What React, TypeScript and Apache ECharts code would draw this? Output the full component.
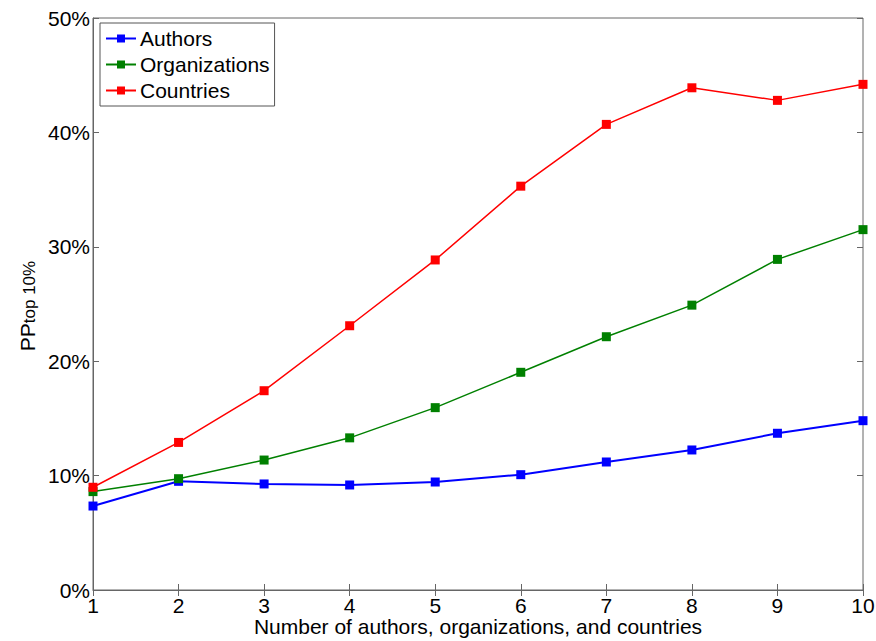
import React, { useEffect, useRef } from "react";
import * as echarts from "echarts";

const xValues = [1, 2, 3, 4, 5, 6, 7, 8, 9, 10];
const authors = [7.34, 9.5, 9.27, 9.18, 9.44, 10.08, 11.19, 12.24, 13.7, 14.8];
const organizations = [8.6, 9.73, 11.36, 13.3, 15.94, 19.03, 22.14, 24.9, 28.9, 31.5];
const countries = [8.98, 12.9, 17.42, 23.1, 28.85, 35.3, 40.7, 43.9, 42.8, 44.2];
const seriesNames = ["Authors", "Organizations", "Countries"];
const xTitle = "Number of authors, organizations, and countries";

const FONT = "Liberation Sans, Arial, sans-serif";

export default function App() {
  const ref = useRef<HTMLDivElement>(null);
  useEffect(() => {
    if (!ref.current) return;
    const chart = echarts.init(ref.current, null, { renderer: "svg" });
    const mk = (name: string, data: number[], color: string, width: number) => ({
      name,
      type: "line",
      data: xValues.map((x, i) => [x, data[i]]),
      symbol: "rect",
      symbolSize: 9,
      lineStyle: { color, width },
      itemStyle: { color },
      emphasis: { disabled: true },
    });
    chart.setOption({
      animation: false,
      backgroundColor: "#fff",
      grid: {
        left: 93,
        right: 13,
        top: 18,
        bottom: 51,
        containLabel: false,
        outerBoundsMode: "none",
        show: true,
        borderColor: "#666",
        borderWidth: 1,
        backgroundColor: "transparent",
      },
      legend: {
        orient: "vertical",
        left: 100,
        top: 23,
        data: seriesNames,
        itemWidth: 30,
        itemHeight: 10,
        itemGap: 5,
        padding: [5, 5, 5, 5],
        borderColor: "#555",
        borderWidth: 1,
        backgroundColor: "#fff",
        textStyle: { fontFamily: FONT, fontSize: 21, color: "#000", padding: [0, 0, 0, -1] },
      },
      xAxis: [
        {
          type: "value",
          min: 1,
          max: 10,
          interval: 1,
          position: "bottom",
          axisLine: { show: true, lineStyle: { color: "#666" } },
          axisTick: { show: true, inside: true, length: 6, lineStyle: { color: "#666" } },
          axisLabel: { color: "#000", fontFamily: FONT, fontSize: 21, margin: 5 },
          splitLine: { show: false },
          name: xTitle,
          nameLocation: "middle",
          nameGap: 26,
          nameMoveOverlap: false,
          nameTextStyle: { color: "#000", fontFamily: FONT, fontSize: 21 },
        },
        {
          type: "value",
          min: 1,
          max: 10,
          interval: 1,
          position: "top",
          axisLine: { show: false },
          axisTick: { show: true, inside: true, length: 6, lineStyle: { color: "#666" } },
          axisLabel: { show: false },
          splitLine: { show: false },
        },
      ],
      yAxis: [
        {
          type: "value",
          min: 0,
          max: 50,
          interval: 10,
          position: "left",
          axisLine: { show: true, lineStyle: { color: "#666" } },
          axisTick: { show: true, inside: true, length: 6, lineStyle: { color: "#666" } },
          axisLabel: { color: "#000", fontFamily: FONT, fontSize: 21, margin: 3, formatter: "{value}%" },
          splitLine: { show: false },
        },
        {
          type: "value",
          min: 0,
          max: 50,
          interval: 10,
          position: "right",
          axisLine: { show: false },
          axisTick: { show: true, inside: true, length: 6, lineStyle: { color: "#666" } },
          axisLabel: { show: false },
          splitLine: { show: false },
        },
      ],
      graphic: [
        {
          type: "text",
          x: 23,
          y: 306,
          rotation: Math.PI / 2,
          style: {
            text: "{a|PP}{b|top 10%}",
            rich: {
              a: { fontFamily: FONT, fontSize: 21, fill: "#000", verticalAlign: "bottom" },
              b: { fontFamily: FONT, fontSize: 17, fill: "#000", padding: [12, 0, 0, 0], verticalAlign: "bottom" },
            },
            align: "center",
            verticalAlign: "middle",
          },
        },
      ],
      series: [
        mk(seriesNames[0], authors, "#0000ff", 2),
        mk(seriesNames[1], organizations, "#008000", 1.5),
        mk(seriesNames[2], countries, "#ff0000", 1.5),
      ],
    });
    return () => chart.dispose();
  }, []);
  return <div ref={ref} style={{ width: 876, height: 641, position: "absolute", left: 0, top: 0 }} />;
}
